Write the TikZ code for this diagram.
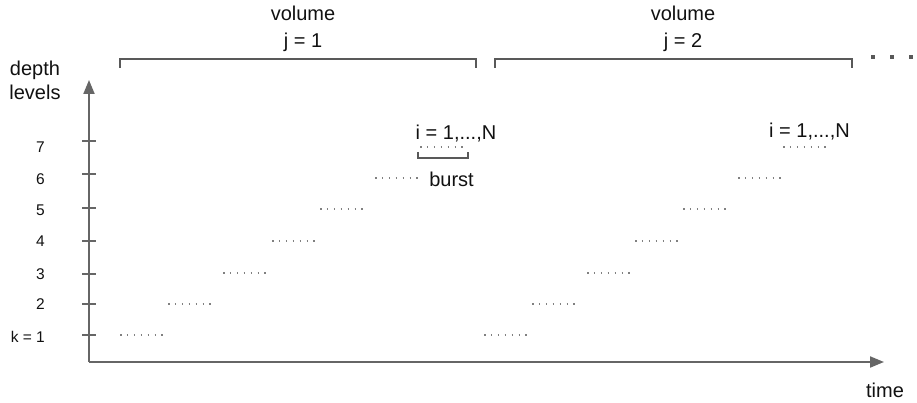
\documentclass[tikz,border=0pt]{standalone}
\usepackage{fontspec}
\setmainfont{Liberation Sans}
\usetikzlibrary{arrows.meta}
\definecolor{axisgray}{HTML}{666666}
\definecolor{bracegray}{HTML}{595959}
\definecolor{dotgray}{HTML}{808080}
\definecolor{inkblack}{HTML}{111111}
\begin{document}
\begin{tikzpicture}[x=1pt,y=-1pt,
  axis/.style={draw=axisgray, line width=2pt, -{Triangle[length=14pt,width=11pt]}},
  tickmark/.style={draw=axisgray, line width=1.5pt},
  lvl/.style={font=\fontsize{15.5}{18}\selectfont, text=inkblack, anchor=base east, inner sep=0pt},
  lab/.style={font=\fontsize{20}{24}\selectfont, text=inkblack, anchor=base, inner sep=0pt},
  burstdots/.style={draw=dotgray, line width=1.5pt, dash pattern=on 1.5pt off 5.4pt},
  brace/.style={draw=bracegray, line width=1.5pt},
]
\useasboundingbox (0,0) rectangle (917,403);

% axes
\coordinate (O) at (89,362);
\coordinate (ytop) at (89,80);
\coordinate (xend) at (884,362);
\draw[axis] (O) -- (ytop);
\draw[axis] (O) -- (xend);

% axis titles
\node[lab] (depth) at (35,76) {depth};
\node[lab] (levels) at (35,100) {levels};
\node[lab] (time) at (885,397) {time};

% depth level ticks and labels
\foreach \k/\y/\b/\t in {1/335/342/{k = 1}, 2/304/309/2, 3/274/279/3, 4/241/247/4,
                          5/208/215/5, 6/174/185/6, 7/141/153/7} {
  \draw[tickmark] (82,\y) -- (96,\y);
  \node[lvl] (lv\k) at (45,\b) {\t};
}

% bursts of volume j = 1
\foreach \x/\y in {120/335, 168/304, 223/273, 272/241, 320/209, 375/178, 420/147}
  \draw[burstdots] (\x,\y) -- ++(43,0);
% bursts of volume j = 2
\foreach \x/\y in {484/335, 532/304, 587/273, 635/241, 683/209, 738/178, 783/147}
  \draw[burstdots] (\x,\y) -- ++(43,0);

% volume brackets
\draw[brace] (120,68) -- (120,59) -- (476,59) -- (476,68);
\draw[brace] (495,68) -- (495,59) -- (852,59) -- (852,68);
\node[lab] (vol1) at (303,21) {volume};
\node[lab] (j1) at (303,48) {j = 1};
\node[lab] (vol2) at (683,21) {volume};
\node[lab] (j2) at (683,48) {j = 2};

% continuation marks
\foreach \x in {873,892,911}
  \fill[bracegray] (\x-2,55) rectangle (\x+2,59);

% burst bracket and index labels
\draw[brace] (418,152) -- (418,158) -- (468,158) -- (468,152);
\node[lab] (idx1) at (456,140) {i = 1,...,N};
\node[lab] (idx2) at (809.5,138) {i = 1,...,N};
\node[lab] (burst) at (451.5,187) {burst};
\end{tikzpicture}
\end{document}
